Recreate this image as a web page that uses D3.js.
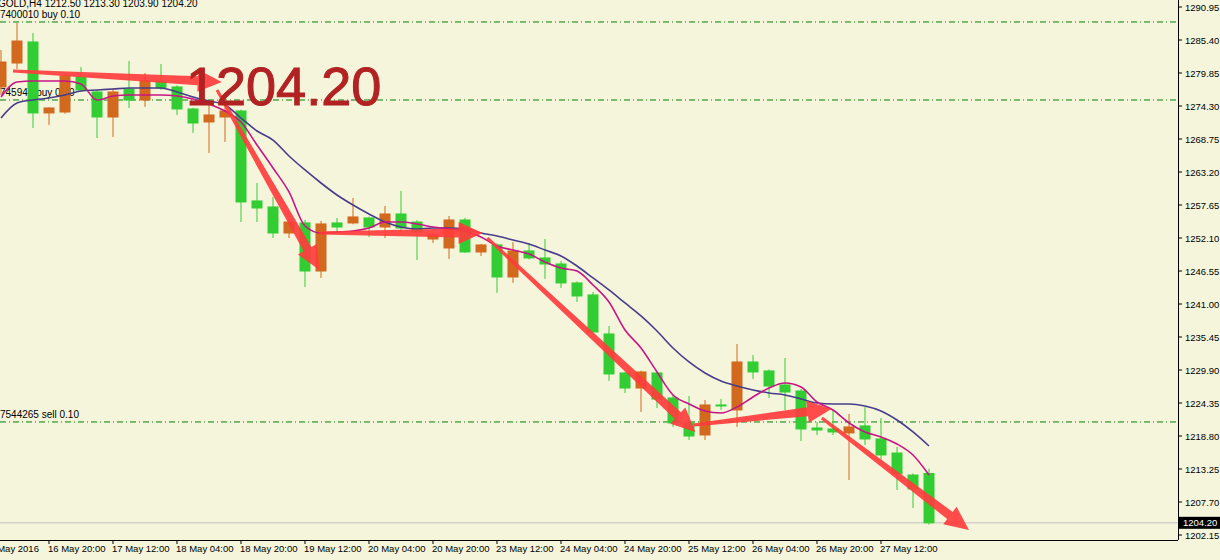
<!DOCTYPE html>
<html><head><meta charset="utf-8">
<script src="https://cdn.jsdelivr.net/npm/d3@7"></script>
<style>body{margin:0;background:#f5f5dc}svg{display:block}</style>
</head><body><svg id="c" width="1220" height="560"></svg>
<script>
const opens=[1277.50,1281.53,1285.07,1273.13,1273.29,1279.18,1276.66,1272.45,1277.16,1275.31,1278.51,1277.50,1273.80,1271.61,1272.45,1273.46,1258.33,1257.32,1252.94,1254.63,1246.55,1254.63,1254.63,1255.47,1253.95,1256.14,1254.79,1251.93,1250.42,1255.13,1249.75,1250.93,1245.54,1249.92,1248.74,1247.73,1244.54,1242.52,1235.96,1229.40,1226.87,1229.40,1225.19,1220.99,1218.97,1224.02,1223.18,1231.25,1229.74,1227.38,1226.37,1220.15,1219.98,1219.31,1220.49,1218.30,1215.94,1212.24,1212.50];
const highs=[1283.72,1288.26,1286.58,1274.10,1279.60,1280.86,1277.00,1277.33,1281.87,1279.85,1281.37,1277.80,1274.00,1274.98,1275.82,1273.70,1261.35,1259.00,1255.00,1255.13,1254.96,1255.47,1258.83,1255.70,1257.49,1260.01,1255.10,1252.90,1255.80,1255.50,1251.10,1251.20,1251.43,1251.26,1251.93,1248.23,1244.80,1243.02,1237.30,1229.60,1229.80,1229.60,1225.70,1225.53,1224.86,1225.03,1234.28,1232.43,1230.00,1231.92,1226.70,1221.16,1223.18,1222.50,1223.68,1221.83,1216.95,1212.50,1213.30];
const lows=[1276.15,1280.53,1270.60,1271.11,1273.00,1276.70,1268.92,1269.09,1273.97,1274.14,1277.00,1272.79,1269.76,1266.40,1268.25,1254.79,1254.79,1252.10,1252.10,1243.86,1245.38,1252.94,1254.40,1252.27,1252.10,1252.94,1248.40,1251.26,1248.57,1249.60,1249.08,1242.86,1244.54,1248.50,1245.21,1243.70,1241.34,1236.00,1228.05,1226.03,1222.84,1223.51,1220.32,1218.13,1218.13,1223.18,1220.32,1228.39,1225.19,1223.18,1217.96,1218.97,1218.97,1211.40,1217.29,1214.60,1209.72,1206.69,1203.90];
const closes=[1281.70,1285.23,1273.13,1273.97,1279.35,1277.00,1272.45,1276.66,1275.31,1278.51,1277.33,1273.80,1271.44,1272.79,1273.46,1258.16,1257.15,1252.94,1254.79,1246.55,1254.46,1253.95,1255.64,1253.95,1256.14,1253.78,1253.11,1252.61,1255.13,1249.75,1250.93,1245.54,1249.92,1248.74,1247.73,1244.54,1242.35,1236.29,1229.23,1226.87,1229.57,1225.02,1220.99,1218.80,1224.02,1223.95,1231.25,1229.57,1227.21,1226.20,1219.98,1219.81,1219.48,1220.32,1218.30,1215.61,1212.41,1209.89,1204.20];
const maFast=[1275.82,1278.34,1278.51,1278.51,1278.51,1278.00,1275.31,1275.98,1276.15,1276.15,1276.15,1275.98,1275.48,1274.64,1273.46,1271.61,1267.74,1263.88,1259.84,1254.12,1252.94,1253.11,1253.28,1253.78,1254.79,1254.79,1254.46,1253.95,1253.62,1253.28,1252.27,1250.76,1250.08,1249.41,1248.07,1247.06,1246.55,1244.20,1241.34,1236.63,1233.60,1229.57,1225.70,1224.19,1223.01,1222.67,1223.68,1225.36,1226.88,1227.72,1227.04,1224.52,1223.18,1220.99,1219.48,1218.64,1217.46,1215.61,1212.24];
const maSlow=[1272.28,1274.81,1275.31,1275.65,1276.15,1276.83,1276.99,1277.16,1277.33,1277.33,1277.33,1276.66,1275.82,1275.14,1274.47,1272.28,1270.10,1268.58,1265.89,1263.54,1261.35,1259.33,1257.65,1256.14,1254.79,1253.95,1253.62,1253.78,1253.78,1253.62,1252.94,1252.44,1251.77,1251.09,1250.08,1249.08,1247.39,1245.38,1243.36,1241.17,1238.99,1236.46,1233.60,1231.25,1229.40,1228.05,1227.21,1226.54,1226.04,1225.70,1225.03,1224.35,1224.19,1224.19,1223.85,1223.01,1221.49,1219.48,1217.12];
const priceTicks=[1290.95,1285.40,1279.85,1274.30,1268.75,1263.20,1257.65,1252.10,1246.55,1241.00,1235.45,1229.90,1224.35,1218.80,1213.25,1207.70,1202.15];
const timeTickIdx=[-1,3,7,11,15,19,23,27,31,35,39,43,47,51,55];
const timeTickLabels=["16 May 2016","16 May 20:00","17 May 12:00","18 May 04:00","18 May 20:00","19 May 12:00","20 May 04:00","20 May 20:00","23 May 12:00","24 May 04:00","24 May 20:00","25 May 12:00","26 May 04:00","26 May 20:00","27 May 12:00"];
const orderLevels=[1288.43,1275.31,1221.16];
const orderLabels=["7400010 buy 0.10","745946 buy 0.10","7544265 sell 0.10"];
const arrows=[[0.75,1280.19,13.8,1278.34],[13.5,1276.99,19.9,1246.72],[19.9,1252.94,30.1,1252.94],[30.4,1252.10,43.4,1219.48],[43.3,1220.66,51.9,1223.35],[51.3,1221.83,60.5,1202.99]];
const lastPrice=1204.20;

const svg=d3.select("#c");
const W=1178,H=540;
const x=d3.scaleLinear().domain([0,58]).range([1,929]);
const y=d3.scaleLinear().domain([1202.15,1290.95]).range([535,7]);
svg.append("rect").attr("width",1220).attr("height",560).attr("fill","#f5f5dc");
const g=svg.append("g");
g.append("defs").append("clipPath").attr("id","cp").append("rect").attr("width",W).attr("height",H);
const p=g.append("g").attr("clip-path","url(#cp)");
const font="'Liberation Sans', Arial, sans-serif";

orderLevels.forEach((v,i)=>{
  p.append("line").attr("x1",0).attr("x2",W).attr("y1",y(v)).attr("y2",y(v))
   .attr("stroke","#008000").attr("stroke-dasharray","6,3,1,3");
  p.append("text").attr("x",0).attr("y",y(v)-4).text(orderLabels[i])
   .attr("font-family",font).attr("font-size",10).attr("fill","#000");
});
p.append("line").attr("x1",0).attr("x2",W).attr("y1",y(lastPrice)).attr("y2",y(lastPrice)).attr("stroke","#c0c0c0");

const up="#d2691e",dn="#32cd32";
opens.forEach((o,i)=>{
  const c=closes[i],col=c>=o?up:dn,cx=x(i);
  p.append("line").attr("x1",cx).attr("x2",cx).attr("y1",y(highs[i])).attr("y2",y(lows[i])).attr("stroke",col);
  const t=y(Math.max(o,c)),b=y(Math.min(o,c));
  p.append("rect").attr("x",cx-5).attr("y",t).attr("width",10).attr("height",Math.max(1,b-t)).attr("fill",col).attr("stroke",col).attr("stroke-width",1);
});

const ln=d3.line().x((d,i)=>x(i)).y(d=>y(d)).curve(d3.curveMonotoneX);
p.append("path").attr("d",ln(maSlow)).attr("fill","none").attr("stroke","#483d8b").attr("stroke-width",1.6);
p.append("path").attr("d",ln(maFast)).attr("fill","none").attr("stroke","#c71585").attr("stroke-width",1.6);

arrows.forEach(a=>{
  const x1=x(a[0]),y1=y(a[1]),x2=x(a[2]),y2=y(a[3]);
  const dx=x2-x1,dy=y2-y1,L=Math.hypot(dx,dy),ux=dx/L,uy=dy/L,nx=-uy,ny=ux;
  const hl=24,hw=11,w0=1.5,w1=4.5;
  const bx=x2-ux*hl,by=y2-uy*hl;
  const pts=[[x1+nx*w0,y1+ny*w0],[bx+nx*w1,by+ny*w1],[bx+nx*hw,by+ny*hw],[x2,y2],[bx-nx*hw,by-ny*hw],[bx-nx*w1,by-ny*w1],[x1-nx*w0,y1-ny*w0]];
  p.append("path").attr("d","M"+pts.map(q=>q.join(",")).join("L")+"Z").attr("fill","#ff3c3c").attr("opacity",0.92);
});

p.append("text").attr("x",186).attr("y",105).text("1204.20").attr("font-family",font)
 .attr("font-size",54).attr("fill","#b22222").attr("stroke","#b22222").attr("stroke-width",1);
p.append("text").attr("x",-2).attr("y",7).text("GOLD,H4  1212.50 1213.30 1203.90 1204.20").attr("font-family",font).attr("font-size",10).attr("fill","#000");

g.append("line").attr("x1",W+0.5).attr("x2",W+0.5).attr("y1",0).attr("y2",H).attr("stroke","#000");
g.append("line").attr("x1",0).attr("x2",W).attr("y1",H+0.5).attr("y2",H+0.5).attr("stroke","#000");
priceTicks.forEach(v=>{
  g.append("line").attr("x1",W).attr("x2",W+4).attr("y1",y(v)).attr("y2",y(v)).attr("stroke","#000");
  g.append("text").attr("x",W+7).attr("y",y(v)+3.5).text(v.toFixed(2)).attr("font-family",font).attr("font-size",9.5).attr("fill","#000");
});
const ly=y(lastPrice);
g.append("rect").attr("x",W+1).attr("y",ly-6).attr("width",41).attr("height",12).attr("fill","#000");
g.append("text").attr("x",W+5).attr("y",ly+3.5).text(lastPrice.toFixed(2)).attr("font-family",font).attr("font-size",9.5).attr("fill","#fff");
timeTickIdx.forEach((k,i)=>{
  const tx=x(k);
  g.append("line").attr("x1",tx).attr("x2",tx).attr("y1",H).attr("y2",H+4).attr("stroke","#000");
  g.append("text").attr("x",tx-1).attr("y",H+12).text(timeTickLabels[i]).attr("font-family",font).attr("font-size",9.5).attr("fill","#000");
});
</script></body></html>
